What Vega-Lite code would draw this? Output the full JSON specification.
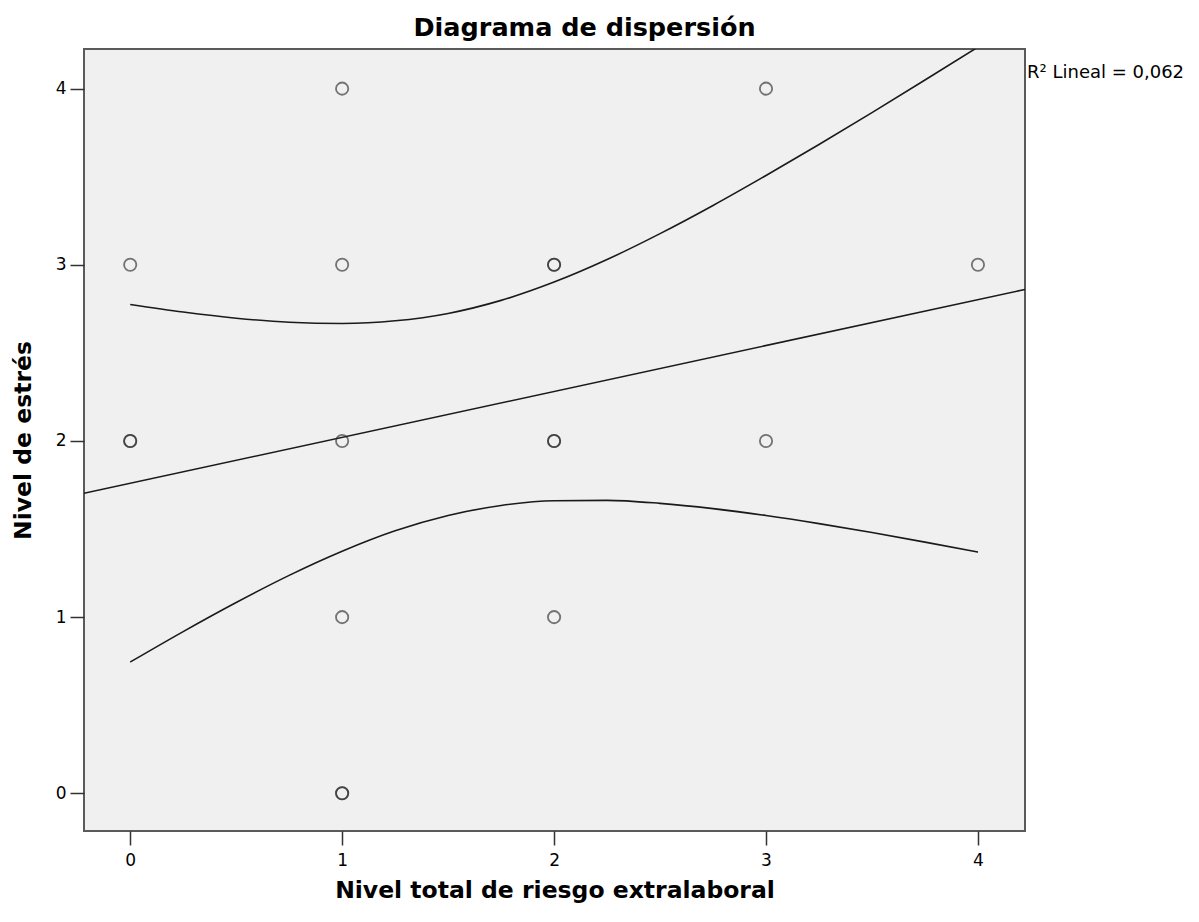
{
  "$schema": "https://vega.github.io/schema/vega-lite/v6.json",
  "width": 941,
  "height": 782,
  "autosize": {"type": "none"},
  "padding": {"left": 84, "top": 49, "right": 174, "bottom": 91},
  "background": "#ffffff",
  "title": {
    "text": "Diagrama de dispersión",
    "font": "DejaVu Sans",
    "fontWeight": "bold",
    "fontSize": 25.5,
    "color": "#000000",
    "offset": 8,
    "dx": 30,
    "anchor": "middle"
  },
  "datasets": {
    "pts": [
      {"x": 1, "y": 4}, {"x": 3, "y": 4},
      {"x": 0, "y": 3}, {"x": 1, "y": 3}, {"x": 2, "y": 3}, {"x": 2, "y": 3}, {"x": 4, "y": 3},
      {"x": 0, "y": 2}, {"x": 0, "y": 2}, {"x": 1, "y": 2}, {"x": 2, "y": 2}, {"x": 2, "y": 2}, {"x": 3, "y": 2},
      {"x": 1, "y": 1}, {"x": 2, "y": 1},
      {"x": 1, "y": 0}, {"x": 1, "y": 0}
    ],
    "curves": [
      {"curve": "fit", "x": -0.218, "y": 1.703},
      {"curve": "fit", "x": 4.222, "y": 2.860},
      {"curve": "upper", "x": 0, "y": 2.775},
      {"curve": "upper", "x": 0.25, "y": 2.732},
      {"curve": "upper", "x": 0.5, "y": 2.697},
      {"curve": "upper", "x": 0.75, "y": 2.674},
      {"curve": "upper", "x": 1, "y": 2.667},
      {"curve": "upper", "x": 1.25, "y": 2.682},
      {"curve": "upper", "x": 1.5, "y": 2.724},
      {"curve": "upper", "x": 1.75, "y": 2.798},
      {"curve": "upper", "x": 2, "y": 2.902},
      {"curve": "upper", "x": 2.25, "y": 3.030},
      {"curve": "upper", "x": 2.5, "y": 3.177},
      {"curve": "upper", "x": 2.75, "y": 3.337},
      {"curve": "upper", "x": 3, "y": 3.507},
      {"curve": "upper", "x": 3.25, "y": 3.683},
      {"curve": "upper", "x": 3.5, "y": 3.864},
      {"curve": "upper", "x": 3.75, "y": 4.049},
      {"curve": "upper", "x": 4, "y": 4.236},
      {"curve": "lower", "x": 0, "y": 0.745},
      {"curve": "lower", "x": 0.25, "y": 0.918},
      {"curve": "lower", "x": 0.5, "y": 1.083},
      {"curve": "lower", "x": 0.75, "y": 1.237},
      {"curve": "lower", "x": 1, "y": 1.374},
      {"curve": "lower", "x": 1.25, "y": 1.490},
      {"curve": "lower", "x": 1.5, "y": 1.577},
      {"curve": "lower", "x": 1.75, "y": 1.634},
      {"curve": "lower", "x": 2, "y": 1.661},
      {"curve": "lower", "x": 2.25, "y": 1.663},
      {"curve": "lower", "x": 2.5, "y": 1.646},
      {"curve": "lower", "x": 2.75, "y": 1.616},
      {"curve": "lower", "x": 3, "y": 1.577},
      {"curve": "lower", "x": 3.25, "y": 1.531},
      {"curve": "lower", "x": 3.5, "y": 1.480},
      {"curve": "lower", "x": 3.75, "y": 1.426},
      {"curve": "lower", "x": 4, "y": 1.369}
    ],
    "note": [
      {"x": 4.222, "y": 4.06, "label": "R² Lineal = 0,062"}
    ]
  },
  "layer": [
    {
      "data": {"name": "curves"},
      "mark": {"type": "line", "color": "#1a1a1a", "strokeWidth": 1.6, "interpolate": "monotone", "clip": true},
      "encoding": {
        "x": {
          "field": "x", "type": "quantitative",
          "scale": {"domain": [-0.218, 4.222], "nice": false, "zero": false},
          "axis": {
            "values": [0, 1, 2, 3, 4],
            "format": "d",
            "title": "Nivel total de riesgo extralaboral",
            "grid": false,
            "domain": false,
            "tickSize": 14,
            "tickWidth": 1.5,
            "tickColor": "#333333",
            "labelPadding": 7,
            "labelFont": "DejaVu Sans",
            "labelFontSize": 17,
            "labelColor": "#000000",
            "titleFont": "DejaVu Sans",
            "titleFontWeight": "bold",
            "titleFontSize": 23.5,
            "titleColor": "#000000",
            "titlePadding": 10
          }
        },
        "y": {
          "field": "y", "type": "quantitative",
          "scale": {"domain": [-0.214, 4.225], "nice": false, "zero": false},
          "axis": {
            "values": [0, 1, 2, 3, 4],
            "format": "d",
            "title": "Nivel de estrés",
            "grid": false,
            "domain": false,
            "tickSize": 14,
            "tickWidth": 1.5,
            "tickColor": "#333333",
            "labelPadding": 4,
            "labelFont": "DejaVu Sans",
            "labelFontSize": 17,
            "labelColor": "#000000",
            "titleFont": "DejaVu Sans",
            "titleFontWeight": "bold",
            "titleFontSize": 23.5,
            "titleColor": "#000000",
            "titlePadding": 20
          }
        },
        "detail": {"field": "curve", "type": "nominal"}
      }
    },
    {
      "data": {"name": "pts"},
      "mark": {"type": "point", "shape": "circle", "filled": false, "size": 150, "stroke": "#262626", "strokeWidth": 1.8, "strokeOpacity": 0.88},
      "encoding": {
        "x": {"field": "x", "type": "quantitative"},
        "y": {"field": "y", "type": "quantitative"}
      }
    },
    {
      "data": {"name": "note"},
      "mark": {"type": "text", "align": "left", "baseline": "alphabetic", "dx": 2, "font": "DejaVu Sans", "fontSize": 18, "color": "#000000", "clip": false},
      "encoding": {
        "x": {"field": "x", "type": "quantitative"},
        "y": {"field": "y", "type": "quantitative"},
        "text": {"field": "label", "type": "nominal"}
      }
    }
  ],
  "config": {
    "view": {"fill": "#f0f0f0", "stroke": "#5a5a5a", "strokeWidth": 2}
  }
}
